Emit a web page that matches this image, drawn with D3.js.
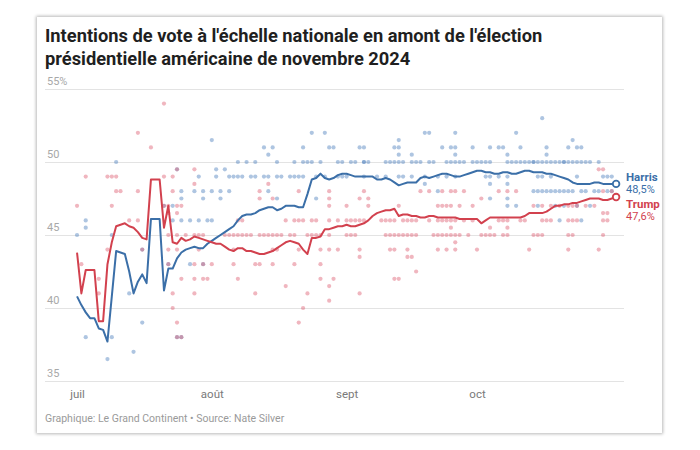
<!DOCTYPE html>
<html><head><meta charset="utf-8">
<script src="https://cdn.jsdelivr.net/npm/d3@7"></script>
<style>
body{margin:0;background:#fff;}
#card{position:absolute;left:37px;top:17px;width:625px;height:416px;background:#fff;box-shadow:0 0 3px 1px rgba(0,0,0,0.28);}
svg{position:absolute;left:0;top:0;font-family:Roboto,"Noto Sans",sans-serif;}
</style></head><body><div id="card"></div><svg id="chart" width="700" height="450"></svg>
<script>
const titleLines = ["Intentions de vote à l'échelle nationale en amont de l'élection", "présidentielle américaine de novembre 2024"];
const sourceText = "Graphique: Le Grand Continent • Source: Nate Silver";
const yTicks = [35, 40, 45, 50, 55];
const yTickLabels = ["35", "40", "45", "50", "55%"];
const monthTicks = ["2024-07-01", "2024-08-01", "2024-09-01", "2024-10-01"];
const monthLabels = ["juil", "août", "sept", "oct"];
const lineStart = "2024-07-01", lineEnd = "2024-11-02";

const harrisValues = [
 40.8,40.2,39.7,39.3,39.3,38.6,38.5,37.7,40.8,43.9,43.8,43.7,42.5,41.0,41.8,42.3,41.7,46.1,46.1,46.1,41.2,42.7,42.7,43.4,43.8,44.0,44.1,44.2,44.1,44.1,44.4,
 44.6,44.8,45.0,45.2,45.4,45.6,46.0,46.3,46.4,46.4,46.5,46.7,46.8,46.9,46.9,46.7,46.8,47.0,47.0,47.0,46.9,46.9,47.8,48.8,48.9,49.2,48.9,48.8,48.9,49.1,49.2,
 49.2,49.1,49.0,49.0,49.0,49.0,49.0,48.8,48.8,48.9,48.8,48.6,48.4,48.5,48.6,48.6,48.6,48.9,49.0,48.9,49.0,49.1,49.2,49.2,49.1,49.0,49.0,49.1,49.2,49.3,
 49.4,49.4,49.3,49.3,49.2,49.2,49.3,49.3,49.2,49.2,49.3,49.4,49.4,49.3,49.3,49.3,49.2,49.2,49.1,49.0,48.9,48.8,48.6,48.5,48.5,48.5,48.5,48.6,48.6,48.5,48.5,
 48.5,48.5];
const trumpValues = [
 43.8,41.0,42.6,42.6,42.6,39.1,39.1,43.0,44.5,45.6,45.7,45.8,45.6,45.5,45.2,44.8,44.7,48.8,48.8,48.8,45.5,47.0,44.5,44.4,44.8,44.6,44.7,44.9,44.8,44.7,44.6,
 44.5,44.4,44.4,44.2,44.0,43.9,44.1,44.1,43.9,43.9,43.8,43.7,43.7,43.8,43.9,44.1,44.3,44.5,44.6,44.5,44.4,44.0,43.7,44.8,44.8,44.9,45.4,45.4,45.5,45.6,45.6,
 45.7,45.6,45.6,45.7,45.8,46.0,46.3,46.5,46.6,46.7,46.7,46.8,46.3,46.4,46.4,46.3,46.3,46.2,46.2,46.3,46.3,46.2,46.2,46.2,46.2,46.2,46.1,46.1,46.1,46.1,
 46.1,45.8,46.0,46.2,46.2,46.2,46.2,46.2,46.2,46.2,46.2,46.3,46.5,46.5,46.5,46.5,46.6,46.8,47.0,47.0,47.1,47.1,47.2,47.2,47.3,47.4,47.5,47.5,47.5,47.4,47.4,
 47.5,47.6];

const harrisPollLevels = [53,52,51.5,51,50.5,50,49.5,49,48.5,48,47.5,47,46,45.5,45,44,43,41,39,38,37,36.5];
const harrisPollDays = [
 ["10-16"],
 ["08-24","08-27","09-19","09-20","09-26","10-10"],
 ["08-01","09-13","10-23"],
 ["08-13","08-15","08-22","08-28","08-29","09-04","09-05","09-12","09-13","09-23","09-25","09-26","09-30","10-04","10-06","10-07","10-11","10-17","10-22","10-24","10-25"],
 ["08-14","09-13","09-16","09-26","10-08","10-17"],
 ["07-10","08-07","08-09","08-11","08-16","08-20","08-22","08-23","08-24","08-26","08-30","08-31","09-02","09-03","09-05","09-05","09-06","09-10","09-11","09-12","09-13","09-14","09-16","09-17","09-18","09-20","09-21","09-24","09-25","09-26","09-27","09-28","09-30","10-01","10-02","10-03","10-04","10-08","10-09","10-10","10-11","10-12","10-13","10-14","10-14","10-15","10-16","10-17","10-18","10-19","10-20","10-21","10-21","10-22","10-23","10-24","10-25","10-26","10-27","10-29"],
 ["07-24","08-02","08-04"],
 ["07-29","08-02","08-05","08-06","08-07","08-08","08-10","08-11","08-13","08-14","08-16","08-17","08-19","08-20","08-21","08-22","08-25","08-27","08-30","08-31","09-01","09-05","09-08","09-10","09-13","09-14","09-16","09-19","09-22","09-24","09-26","10-03","10-04","10-06","10-08","10-15","10-16","10-18","10-24","10-30","10-31","11-01"],
 ["09-19","10-04","10-08"],
 ["07-25","07-28","07-30","08-01","08-03","08-05","08-14","09-22","10-14","10-15","10-16","10-17","10-18","10-19","10-20","10-21","10-22","10-23","10-25","10-26","10-28","10-29","10-31","11-01"],
 ["07-25","07-30","08-03","08-16","08-25","10-04","10-08"],
 ["07-21","07-23","10-08","10-10","10-15","10-19","10-21","10-24","10-27"],
 ["07-03","07-23","07-25","07-27","07-29","07-31","08-01","10-20","10-25"],
 ["07-03"],
 ["07-01","07-09"],
 ["07-16"],
 ["07-22","07-27","07-30"],
 ["07-13"],
 ["07-16"],
 ["07-03","07-09","07-24","07-25"],
 ["07-14"],
 ["07-08"]
];
const trumpPollLevels = [54,52,51,49.5,49,48.5,48,47.5,47,46.5,46,45.5,45,44.5,44,43.5,43,42.5,42,41.5,41,40.5,40,39,38];
const trumpPollDays = [
 ["07-21"],
 ["07-15"],
 ["07-18"],
 ["07-24","07-28","10-29","10-30"],
 ["07-03","07-08","07-09","07-10","07-21","07-23"],
 ["08-14","07-28"],
 ["07-10","07-11","07-15","07-23","08-12","08-21","08-28","09-05","09-18","09-20","09-23","09-25","09-26","09-28","10-06","10-08","10-10","10-30","11-01"],
 ["08-12","08-15","08-28","09-04","09-06","10-02"],
 ["07-01","07-09","07-21","07-22","07-24","07-25","08-28","09-01","09-06","09-13","09-22","09-24","09-23","09-25","09-27","09-30","10-14","10-16","10-18","10-20","10-22","10-23","10-24","10-26","10-28"],
 ["07-22","07-24","10-30","10-31"],
 ["07-13","07-15","08-07","08-08","08-18","08-20","08-21","08-22","08-24","08-25","08-28","08-30","09-01","09-02","09-03","09-04","09-05","09-09","09-10","09-11","09-12","09-14","09-15","09-16","09-17","09-20","09-22","09-23","09-24","09-25","09-26","09-28","09-30","10-06","10-07","10-08","10-11","10-12","10-16","10-17","10-18","10-22","10-23","10-24","10-30","10-31"],
 ["09-25","10-04","10-08"],
 ["07-22","07-24","07-26","07-28","07-29","07-30","08-04","08-05","08-06","08-07","08-08","08-09","08-10","08-12","08-13","08-14","08-15","08-16","08-17","08-19","08-20","08-23","08-24","08-25","08-26","08-28","09-01","09-02","09-03","09-10","09-11","09-12","09-13","09-14","09-15","09-16","09-17","09-21","09-22","09-23","09-24","09-25","09-26","09-27","09-29","10-02","10-03","10-04","10-05","10-07","10-08","10-14","10-15","10-16","10-22","10-23","10-30"],
 ["09-26"],
 ["07-08","07-16","07-22","07-24","07-29","08-06","08-15","08-16","08-21","08-26","08-28","08-30","09-04","09-11","09-12","09-15","09-22","09-24","09-26","10-01","10-13","10-22","10-29"],
 ["09-04","09-15","09-16"],
 ["07-02","07-22","07-28","07-30","08-01","08-06","08-11","08-12","08-15","08-20","08-26"],
 ["09-17"],
 ["07-06","07-25","07-28","07-30","07-31","08-07","08-26","08-29","09-12","09-13"],
 ["08-18","08-28"],
 ["07-06","07-23","07-28","08-11","08-23","09-04"],
 ["08-28"],
 ["07-23","08-22"],
 ["07-24","08-21"],
 ["07-24","07-25"]
];
const seriesNames = ["Harris", "Trump"];
const seriesLast = ["48,5%", "47,6%"];

const C = {harris: "#3b6fa8", trump: "#d2414e", harrisDot: "#5d8cc4", trumpDot: "#de5d70"};
const parse = d3.timeParse("%Y-%m-%d");
const svg = d3.select("#chart");

const x = d3.scaleTime().domain([parse("2024-06-24"), parse("2024-11-04")]).range([46.6, 624.8]);
const y = d3.scaleLinear().domain([35, 55]).range([381, 89]);

// title
svg.append("g").selectAll("text").data(titleLines).join("text")
  .attr("x", 45).attr("y", (d, i) => 42 + i * 23)
  .attr("font-size", 18.3).attr("font-weight", 700).attr("fill", "#1f1f1f")
  .attr("font-family", "Roboto, sans-serif").text(d => d);

// y axis with gridlines
const yAxis = svg.append("g").attr("transform", "translate(45,0)")
  .call(d3.axisLeft(y).tickValues(yTicks).tickSize(-579).tickFormat((d, i) => yTickLabels[i]));
yAxis.select(".domain").remove();
yAxis.selectAll(".tick line").attr("stroke", "#e3e3e3").attr("stroke-width", 1);
yAxis.selectAll(".tick text").attr("x", 2).attr("dy", -5).attr("text-anchor", "start")
  .attr("fill", "#a8a8a8").attr("font-size", 11).attr("font-family", "Roboto, sans-serif");

// x axis
const xAxis = svg.append("g").attr("transform", "translate(0,381)")
  .call(d3.axisBottom(x).tickValues(monthTicks.map(parse)).tickSize(0).tickFormat((d, i) => monthLabels[i]));
xAxis.select(".domain").remove();
xAxis.selectAll(".tick text").attr("dy", 14).attr("fill", "#7a7a7a").attr("font-size", 11.5).attr("font-family", "Roboto, sans-serif");

// polls
function pollPoints(levels, days) {
  const pts = [];
  levels.forEach((v, i) => days[i].forEach(d => pts.push({date: parse("2024-" + d), v})));
  return pts;
}
const dots = svg.append("g");
dots.selectAll("circle.h").data(pollPoints(harrisPollLevels, harrisPollDays)).join("circle")
  .attr("class", "h").attr("cx", d => x(d.date)).attr("cy", d => y(d.v)).attr("r", 2.1)
  .attr("fill", C.harrisDot).attr("fill-opacity", 0.5);
dots.selectAll("circle.t").data(pollPoints(trumpPollLevels, trumpPollDays)).join("circle")
  .attr("class", "t").attr("cx", d => x(d.date)).attr("cy", d => y(d.v)).attr("r", 2.1)
  .attr("fill", C.trumpDot).attr("fill-opacity", 0.45);

// lines
const lineDates = d3.timeDay.range(parse(lineStart), d3.timeDay.offset(parse(lineEnd), 1));
const line = d3.line().x(d => x(d.date)).y(d => y(d.v));
const series = [
  {name: seriesNames[0], color: C.harris, pts: lineDates.map((d, i) => ({date: d, v: harrisValues[i]})), last: seriesLast[0]},
  {name: seriesNames[1], color: C.trump, pts: lineDates.map((d, i) => ({date: d, v: trumpValues[i]})), last: seriesLast[1]}
];
series.forEach(s => {
  svg.append("path").datum(s.pts).attr("d", line).attr("fill", "none")
    .attr("stroke", s.color).attr("stroke-width", 2).attr("stroke-linejoin", "round");
  const e = s.pts[s.pts.length - 1];
  svg.append("circle").attr("cx", x(e.date)).attr("cy", y(e.v)).attr("r", 3.3)
    .attr("fill", "#fff").attr("stroke", s.color).attr("stroke-width", 1.8);
});
// end labels
const lab = svg.append("g");
const labY = [181, 208];
series.forEach((s, i) => {
  lab.append("text").attr("x", 626).attr("y", labY[i]).attr("font-size", 11.5).attr("font-weight", 700)
    .attr("fill", s.color).text(s.name);
  lab.append("text").attr("x", 626).attr("y", labY[i] + 12).attr("font-size", 11)
    .attr("fill", s.color).text(s.last);
});

// source
svg.append("text").attr("x", 45).attr("y", 422).attr("font-size", 10.5).attr("fill", "#9a9a9a").text(sourceText);
</script></body></html>
